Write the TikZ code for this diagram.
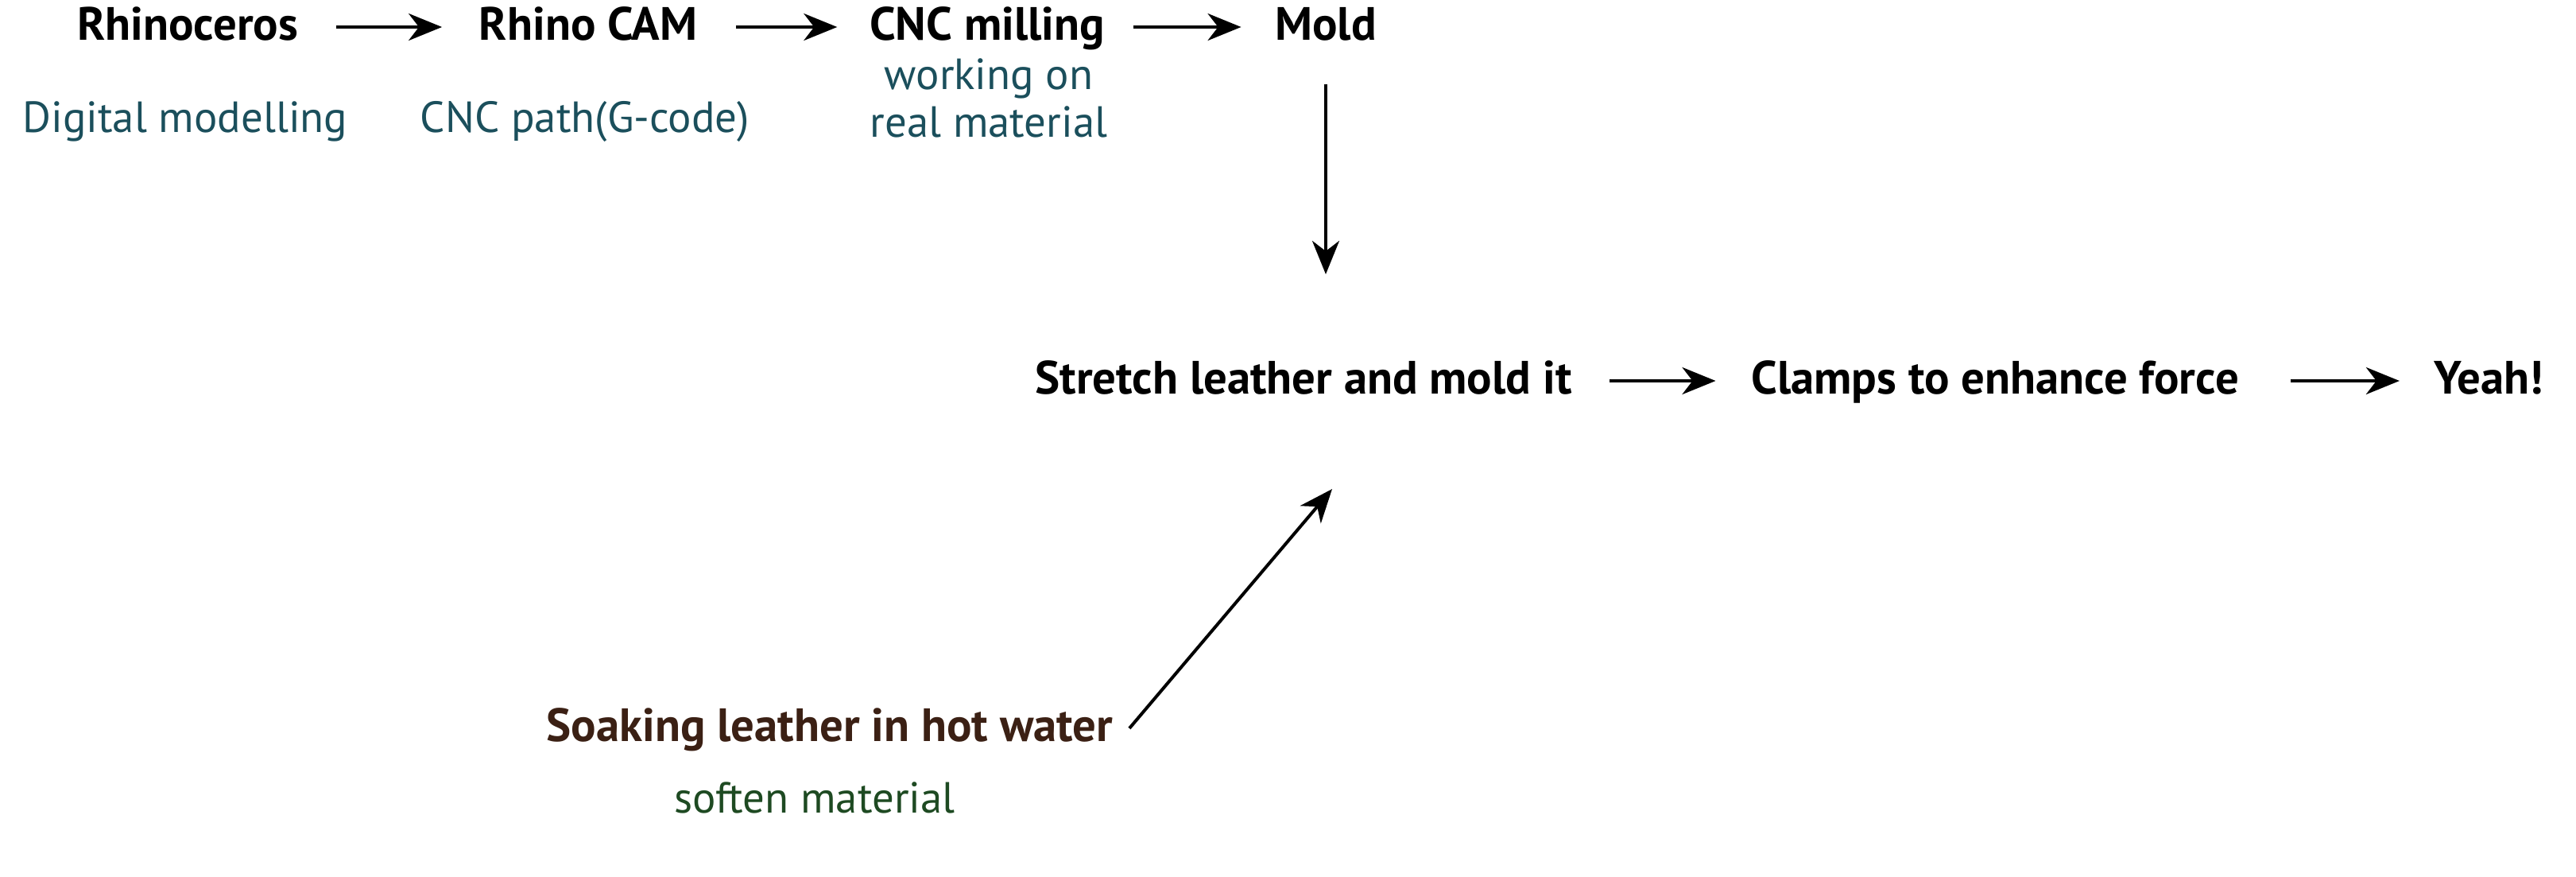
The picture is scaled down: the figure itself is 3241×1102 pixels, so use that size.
\documentclass[tikz,border=0pt]{standalone}
\usepackage{fontspec}
\setmainfont{PT Sans}
\usetikzlibrary{arrows.meta}
\definecolor{subteal}{HTML}{1B4F5C}
\definecolor{soakbrown}{HTML}{3B2014}
\definecolor{softgreen}{HTML}{1E4A22}

\begin{document}
\begin{tikzpicture}[x=0.01cm,y=0.01cm,
  head/.style={anchor=base,inner sep=0pt,font=\fontsize{16.7}{18}\selectfont\bfseries,text height=0.45cm,text depth=0.13cm},
  sub/.style={anchor=base,inner sep=0pt,text=subteal,font=\fontsize{15.6}{17}\selectfont,align=center},
  arr/.style={-{Stealth[length=0.42cm,width=0.34cm,inset=0.13cm]},line width=0.04cm}]
\useasboundingbox (0,0) rectangle (3241,-1102);
\node[head] (rhino) at (236,-50) {Rhinoceros};
\node[head] (cam) at (740,-50) {Rhino CAM};
\node[head] (cnc) at (1242,-50) {CNC milling};
\node[head] (mold) at (1668,-50) {Mold};
\node[sub] (digi) at (233,-166) {Digital modelling};
\node[sub] (path) at (736,-166) {CNC path(G-code)};
\node[sub] (work) at (1244,-172) {working on\\real material};
\node[head] (stretch) at (1640,-495) {Stretch leather and mold it};
\node[head] (clamps) at (2510,-495) {Clamps to enhance force};
\node[head] (yeah) at (3131,-495) {Yeah!};
\node[head,text=soakbrown] (soak) at (1044,-932) {Soaking leather in hot water};
\node[sub,text=softgreen] (soft) at (1025,-1022) {soften material};
\draw[arr,shorten <=0.47cm,shorten >=0.46cm] (rhino.east) -- (cam.west);
\draw[arr,shorten <=0.48cm,shorten >=0.40cm] (cam.east) -- (cnc.west);
\draw[arr,shorten <=0.35cm,shorten >=0.42cm] (cnc.east) -- (mold.west);
\draw[arr,shorten <=0.42cm] (mold.south) -- ([yshift=1.5cm]stretch.base -| mold.south);
\draw[arr,shorten <=0.47cm,shorten >=0.44cm] (stretch.east) -- (clamps.west);
\draw[arr,shorten <=0.64cm,shorten >=0.43cm] (clamps.east) -- (yeah.west);
\draw[arr] ([xshift=0.2cm]soak.east) -- ([xshift=0.08cm,yshift=-1.2cm]stretch.base -| mold.south);
\end{tikzpicture}
\end{document}
